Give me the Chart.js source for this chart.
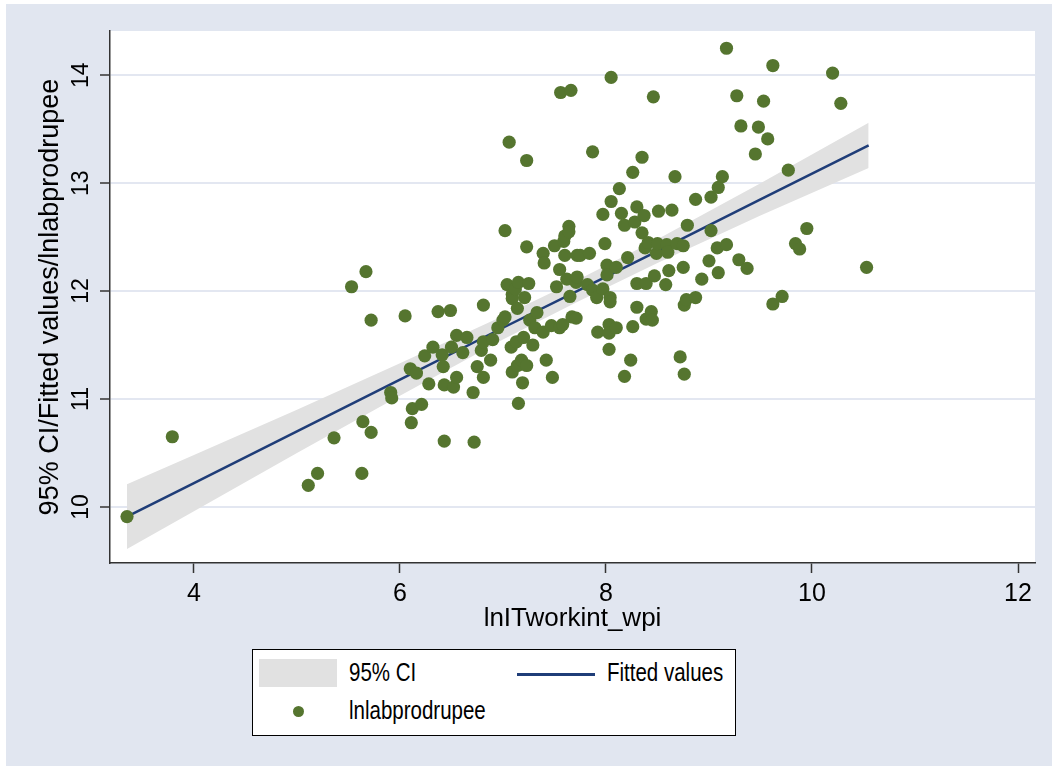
<!DOCTYPE html>
<html>
<head>
<meta charset="utf-8">
<script src="https://cdn.jsdelivr.net/npm/chart.js@4.4.1/dist/chart.umd.min.js"></script>
<style>
  html, body { margin: 0; padding: 0; background: #fff; }
  #wrap { position: relative; width: 1052px; height: 770px; }
  #legend { position: absolute; left: 252px; top: 649px; width: 482px; height: 85px;
            border: 1px solid #000; background: #fff; }
  .lg { position: absolute; font-family: "Liberation Sans", Arial, sans-serif; font-size: 25px;
        line-height: 30px; color: #000; white-space: nowrap; transform: scaleX(0.82); transform-origin: left center; }
  .sw { position: absolute; }
</style>
</head>
<body>
<div id="wrap">
  <canvas id="myChart" width="1052" height="770"></canvas>
  <div id="legend"></div>
</div>
<script>
// axis ticks
const xTicks = [4, 6, 8, 10, 12]
const yTicks = [10, 11, 12, 13, 14]

// fitted line and 95% CI
const ciX      = [3.35, 4, 5, 6, 7, 7.7, 8.5, 9.5, 10.55]
const fitted   = [9.91, 10.22, 10.70, 11.18, 11.66, 11.99, 12.37, 12.85, 13.35]
const ciLower  = [9.61, 9.96, 10.50, 11.03, 11.55, 11.89, 12.26, 12.70, 13.14]
const ciUpper  = [10.21, 10.48, 10.90, 11.33, 11.77, 12.09, 12.48, 13.00, 13.56]

// scatter: lnITworkint_wpi vs lnlabprodrupee
const lnITworkint = [
  3.35,3.79,5.11,5.20,5.36,5.53,5.63,5.64,5.67,5.72,
  5.72,5.91,5.92,6.05,6.10,6.11,6.12,6.16,6.21,6.24,
  6.28,6.32,6.37,6.41,6.42,6.43,6.43,6.49,6.50,6.52,
  6.55,6.55,6.61,6.65,6.71,6.72,6.75,6.79,6.81,6.81,
  6.81,6.88,6.90,6.95,7.00,7.02,7.02,7.04,7.06,7.08,
  7.09,7.09,7.09,7.12,7.13,7.14,7.14,7.15,7.15,7.18,
  7.19,7.20,7.21,7.23,7.23,7.23,7.25,7.26,7.29,7.31,
  7.33,7.39,7.39,7.40,7.42,7.47,7.48,7.50,7.52,7.55,
  7.55,7.56,7.58,7.59,7.60,7.60,7.62,7.64,7.64,7.65,
  7.66,7.67,7.71,7.71,7.72,7.72,7.75,7.82,7.84,7.87,
  7.87,7.91,7.92,7.97,7.97,7.99,8.01,8.01,8.03,8.03,
  8.04,8.04,8.03,8.05,8.05,8.10,8.10,8.13,8.15,8.18,
  8.18,8.21,8.24,8.26,8.26,8.28,8.30,8.30,8.30,8.35,
  8.35,8.37,8.38,8.39,8.39,8.41,8.44,8.45,8.46,8.47,
  8.49,8.50,8.51,8.58,8.59,8.60,8.61,8.64,8.67,8.69,
  8.72,8.75,8.75,8.76,8.76,8.78,8.79,8.87,8.87,8.93,
  9.00,9.02,9.02,9.08,9.09,9.09,9.13,9.17,9.17,9.27,
  9.29,9.31,9.37,9.45,9.48,9.53,9.57,9.62,9.62,9.71,
  9.77,9.84,9.88,9.95,10.20,10.28,10.53
]
const lnlabprodrupee = [
  9.91,10.65,10.20,10.31,10.64,12.04,10.31,10.79,12.18,10.69,
  11.73,11.06,11.01,11.77,11.28,10.78,10.91,11.24,10.95,11.40,
  11.14,11.48,11.81,11.41,11.30,11.13,10.61,11.82,11.48,11.11,
  11.59,11.20,11.43,11.57,11.06,10.60,11.30,11.45,11.53,11.20,
  11.87,11.36,11.55,11.66,11.73,11.76,12.56,12.06,13.38,11.48,
  11.25,11.97,11.93,12.02,11.53,11.31,11.84,12.08,10.96,11.36,
  11.15,11.57,11.94,13.21,12.41,11.31,12.07,11.73,11.50,11.66,
  11.80,11.62,12.35,12.26,11.36,11.68,11.20,12.42,12.04,11.66,
  12.20,13.84,11.69,12.46,12.33,12.51,12.11,12.60,12.55,11.95,
  13.86,11.76,12.08,11.75,12.33,12.13,12.33,12.06,12.35,13.29,
  12.01,11.94,11.62,12.71,12.02,12.44,12.24,12.15,11.69,11.61,
  11.94,11.90,11.46,13.98,12.83,12.22,11.66,12.95,12.72,12.61,
  11.21,12.31,11.36,13.10,11.67,12.64,12.78,12.07,11.85,12.54,
  13.24,12.70,12.40,12.07,11.74,12.45,11.81,11.73,13.80,12.14,
  12.35,12.44,12.74,12.06,12.43,12.36,12.19,12.75,13.06,12.44,
  11.39,12.42,12.22,11.23,11.87,11.92,12.61,12.85,11.94,12.11,
  12.28,12.87,12.56,12.40,12.17,12.96,13.06,12.43,14.25,13.81,
  12.29,13.53,12.21,13.27,13.52,13.76,13.41,14.09,11.88,11.95,
  13.12,12.44,12.39,12.58,14.02,13.74,12.22
]

const FONT = '"Liberation Sans", Arial, sans-serif'
const green = '#55752f'
const navy = '#1f3d78'
const ciGray = '#e1e1e1'

const toPts = (xs, ys) => xs.map((x, i) => ({ x: x, y: ys[i] }))

// stata-ish background: blue-grey outer, white plot region
const bgPlugin = {
  id: 'bg',
  beforeDraw(c) {
    const g = c.ctx
    const a = c.chartArea
    g.save()
    g.fillStyle = '#fff'
    g.fillRect(0, 0, c.width, c.height)
    g.fillStyle = '#e1e6f0'
    g.fillRect(6, 4, 1046, 762)
    g.fillStyle = '#fff'
    g.fillRect(a.left, a.top, a.right - a.left, a.bottom - a.top)
    g.restore()
  }
}

const ctx = document.getElementById('myChart').getContext('2d')
const chart = new Chart(ctx, {
  type: 'scatter',
  data: {
    datasets: [
      { label: 'lnlabprodrupee', data: toPts(lnITworkint, lnlabprodrupee),
        backgroundColor: green, borderColor: green, borderWidth: 0, pointRadius: 6.6, order: 0 },
      { type: 'line', label: 'Fitted values', data: toPts(ciX, fitted), showLine: true,
        borderColor: navy, borderWidth: 2.5, pointRadius: 0, tension: 0, fill: false, order: 1 },
      { type: 'line', label: 'ci_low', data: toPts(ciX, ciLower), showLine: true,
        borderColor: 'rgba(0,0,0,0)', borderWidth: 1, pointRadius: 0, tension: 0, fill: false, order: 2 },
      { type: 'line', label: '95% CI', data: toPts(ciX, ciUpper), showLine: true,
        borderColor: 'rgba(0,0,0,0)', borderWidth: 1, pointRadius: 0, tension: 0,
        fill: '-1', backgroundColor: ciGray, order: 3 }
    ]
  },
  options: {
    responsive: false,
    animation: false,
    layout: { padding: { left: 6, top: 31, right: 17, bottom: 107 } },
    plugins: { legend: { display: false }, tooltip: { enabled: false } },
    scales: {
      x: {
        type: 'linear', min: 3.185, max: 12.165,
        afterBuildTicks: s => { s.ticks = xTicks.map(v => ({ value: v })) },
        afterFit: s => { s.height = 100 },
        grid: { drawOnChartArea: false, tickLength: 10, tickColor: '#333', tickWidth: 1.5 },
        border: { color: '#333', width: 1.5 },
        ticks: { color: '#000', font: { family: FONT, size: 25 }, padding: 6, maxRotation: 0, autoSkip: false },
        title: { display: true, text: 'lnITworkint_wpi', color: '#000',
                 font: { family: FONT, size: 26 }, padding: { top: 0, bottom: 29 } }
      },
      y: {
        type: 'linear', min: 9.48, max: 14.41,
        afterBuildTicks: s => { s.ticks = yTicks.map(v => ({ value: v })) },
        afterFit: s => { s.width = 104 },
        grid: { color: '#e3e7f1', lineWidth: 2, tickLength: 10, tickColor: '#333', tickWidth: 1.5 },
        border: { color: '#333', width: 1.5 },
        ticks: { color: '#000', font: { family: FONT, size: 23 }, padding: 6,
                 minRotation: 90, maxRotation: 90, crossAlign: 'center', autoSkip: false },
        title: { display: true, text: '95% CI/Fitted values/lnlabprodrupee', color: '#000',
                 font: { family: FONT, size: 27 }, padding: { top: 28, bottom: 0 } }
      }
    }
  },
  plugins: [bgPlugin]
})

// legend in stata layout: CI, Fitted / scatter
const wrap = document.getElementById('wrap')
const ds = chart.data.datasets
function addEl(cls, style, text) {
  const d = document.createElement('div')
  d.className = cls
  Object.assign(d.style, style)
  if (text) d.textContent = text
  wrap.appendChild(d)
}
addEl('sw', { left: '259px', top: '659px', width: '78px', height: '28px', background: ds[3].backgroundColor })
addEl('lg', { left: '349px', top: '657px' }, ds[3].label)
addEl('sw', { left: '517px', top: '673px', width: '78px', height: '2.5px', background: ds[1].borderColor })
addEl('lg', { left: '607px', top: '657px' }, ds[1].label)
addEl('sw', { left: '293px', top: '706px', width: '11px', height: '11px', borderRadius: '50%', background: ds[0].backgroundColor })
addEl('lg', { left: '349px', top: '695px' }, ds[0].label)
</script>
</body>
</html>
